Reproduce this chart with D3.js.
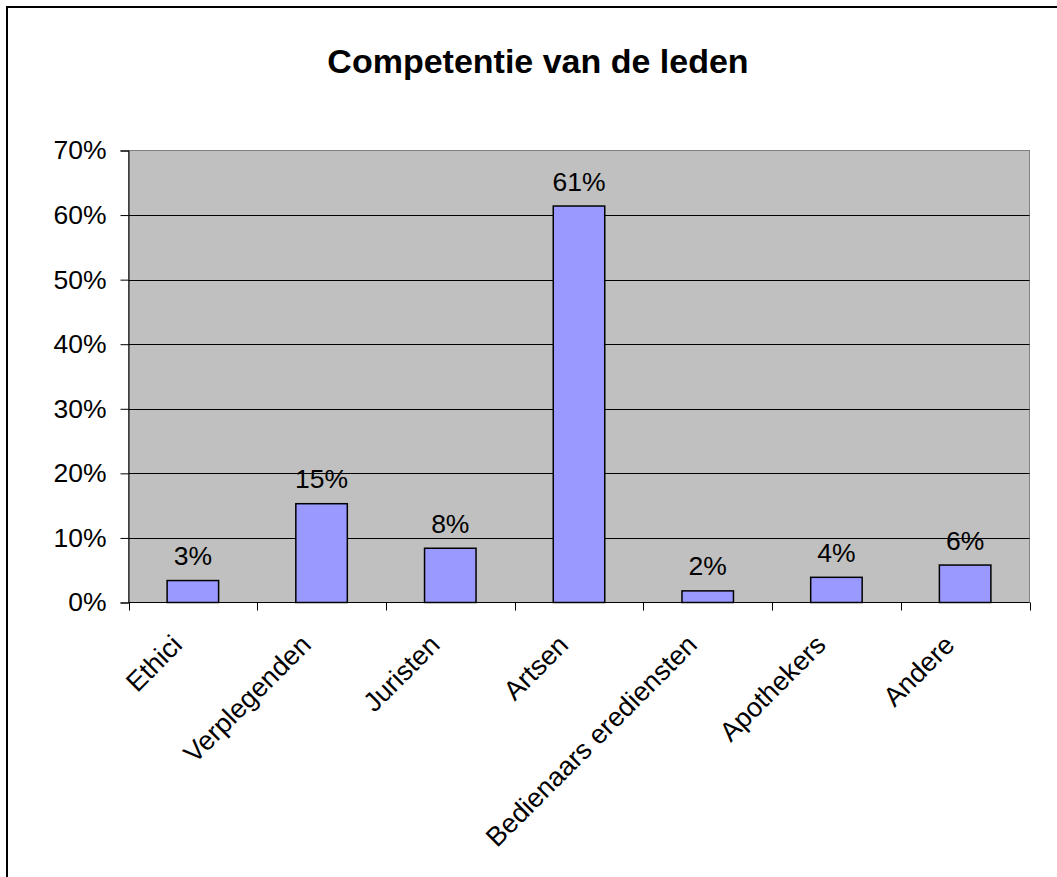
<!DOCTYPE html>
<html>
<head>
<meta charset="utf-8">
<script src="https://cdn.jsdelivr.net/npm/d3@7"></script>
<style>
  body { margin: 0; background: #fff; }
  text { font-family: Arial, "Liberation Sans", sans-serif; }
</style>
</head>
<body>
<svg id="chart" width="1057" height="877"></svg>
<script>
const categories = ["Ethici", "Verplegenden", "Juristen", "Artsen", "Bedienaars erediensten", "Apothekers", "Andere"];
const values = [0.034, 0.153, 0.084, 0.614, 0.018, 0.039, 0.058];
const yTicks = [0, 0.1, 0.2, 0.3, 0.4, 0.5, 0.6, 0.7];
const title = "Competentie van de leden";

(function () {
const svg = d3.select("#chart");
const W = 1057, H = 877;
const pLeft = 128.5, pRight = 1029.5, pTop = 150.5, pBottom = 602.5;

svg.append("rect").attr("width", W).attr("height", H).attr("fill", "#fff");
svg.append("rect").attr("x", 7).attr("y", 7).attr("width", W + 20).attr("height", H + 20)
  .attr("fill", "none").attr("stroke", "#000").attr("stroke-width", 2);

svg.append("text").attr("x", 538).attr("y", 73).attr("text-anchor", "middle")
  .attr("font-size", 34).attr("font-weight", "bold").attr("fill", "#000").text(title);

const x = d3.scaleBand().domain(categories).range([pLeft, pRight]).paddingInner(0).paddingOuter(0);
const y = d3.scaleLinear().domain([0, 0.7]).range([pBottom, pTop]);

// plot background
svg.append("rect").attr("x", pLeft).attr("y", pTop).attr("width", pRight - pLeft).attr("height", pBottom - pTop)
  .attr("fill", "#C0C0C0").attr("stroke", "#808080").attr("stroke-width", 1);

// gridlines
svg.append("g").selectAll("line").data(yTicks.filter(d => d > 0 && d < 0.7)).join("line")
  .attr("x1", pLeft).attr("x2", pRight)
  .attr("y1", d => Math.round(y(d)) + 0.5).attr("y2", d => Math.round(y(d)) + 0.5)
  .attr("stroke", "#000").attr("stroke-width", 1);

// y axis
const yAxis = d3.axisLeft(y).tickValues(yTicks).tickFormat(d3.format(".0%")).tickSize(8).tickPadding(14);
const gy = svg.append("g").attr("transform", `translate(${pLeft},0)`).call(yAxis);
gy.select(".domain").attr("stroke", "#000");
gy.selectAll(".tick line").attr("stroke", "#000");
gy.selectAll(".tick text").attr("font-size", 26.5).attr("fill", "#000").attr("font-family", "Arial, 'Liberation Sans', sans-serif");

// x axis baseline and ticks at band boundaries
svg.append("line").attr("x1", pLeft).attr("x2", pRight).attr("y1", pBottom).attr("y2", pBottom).attr("stroke", "#000");
const bounds = categories.map(c => x(c)).concat([x(categories[categories.length - 1]) + x.bandwidth()]);
svg.append("g").selectAll("line").data(bounds).join("line")
  .attr("x1", d => Math.round(d) + 0.5).attr("x2", d => Math.round(d) + 0.5)
  .attr("y1", pBottom).attr("y2", pBottom + 8).attr("stroke", "#000");

// bars
const bw = x.bandwidth() / 2.5;
svg.append("g").selectAll("rect").data(values).join("rect")
  .attr("x", (d, i) => x(categories[i]) + (x.bandwidth() - bw) / 2)
  .attr("y", d => y(d))
  .attr("width", bw)
  .attr("height", d => y(0) - y(d))
  .attr("fill", "#9999FF").attr("stroke", "#000").attr("stroke-width", 1.5);

// data labels
svg.append("g").selectAll("text").data(values).join("text")
  .attr("x", (d, i) => x(categories[i]) + x.bandwidth() / 2)
  .attr("y", d => y(d) - 15.5)
  .attr("text-anchor", "middle").attr("font-size", 26.5).attr("fill", "#000")
  .text(d => Math.round(d * 100) + "%");

// category labels
svg.append("g").selectAll("text").data(categories).join("text")
  .attr("transform", d => `translate(${x(d) + x.bandwidth() / 2 - 9},${pBottom + 44}) rotate(-45)`)
  .attr("text-anchor", "end").attr("font-size", 27).attr("fill", "#000")
  .text(d => d);
})();
</script>
</body>
</html>
